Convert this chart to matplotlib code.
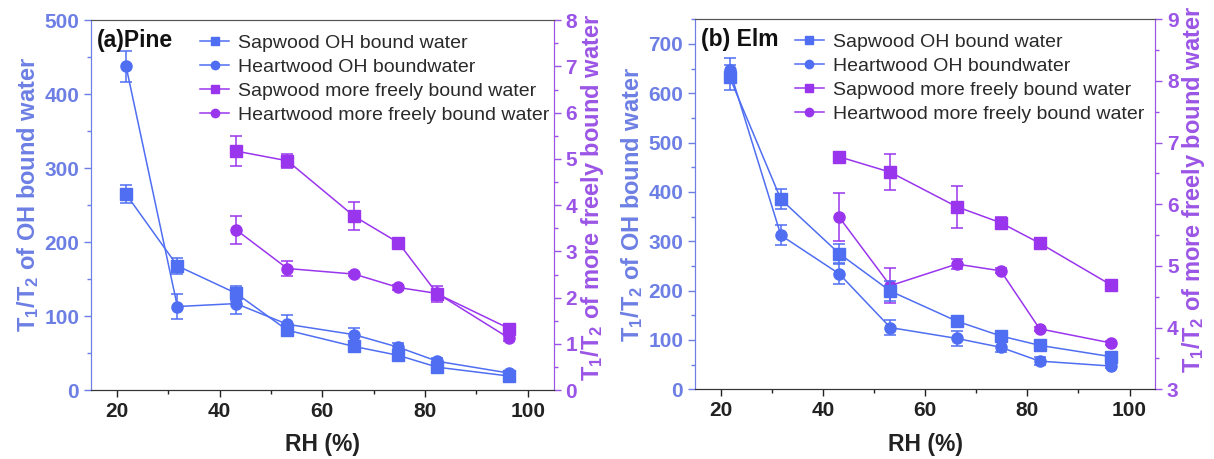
import matplotlib
matplotlib.use('Agg')
import matplotlib.pyplot as plt
from matplotlib.ticker import MultipleLocator

plt.rcParams['font.family'] = ['Liberation Sans', 'DejaVu Sans']
plt.rcParams['mathtext.fontset'] = 'custom'
plt.rcParams['mathtext.rm'] = 'Liberation Sans:bold'
plt.rcParams['mathtext.bf'] = 'Liberation Sans:bold'
plt.rcParams['mathtext.default'] = 'bf'

# relative humidity (%)
rh = [21.8, 31.8, 43.2, 53.2, 66.2, 74.8, 82.4, 96.4]
rh_free = rh[2:]

# (a) Pine
pine_sap_oh = [265, 168, 131, 81, 59, 47, 31, 19]
pine_sap_oh_err = [12, 11, 10, 8, 6, 5, 4, 3]
pine_heart_oh = [438, 113, 117, 89, 75, 58, 39, 23]
pine_heart_oh_err = [21, 17, 14, 12, 9, 6, 4, 3]
pine_sap_free = [5.17, 4.96, 3.76, 3.19, 2.08, 1.33]
pine_sap_free_err = [0.33, 0.15, 0.3, 0.05, 0.18, 0.05]
pine_heart_free = [3.47, 2.63, 2.51, 2.22, 2.09, 1.12]
pine_heart_free_err = [0.3, 0.17, 0.05, 0.05, 0.1, 0.05]

# (b) Elm
elm_sap_oh = [632, 385, 275, 199, 138, 108, 89, 66]
elm_sap_oh_err = [25, 20, 20, 20, 10, 8, 5, 5]
elm_heart_oh = [647, 312, 234, 125, 103, 85, 57, 47]
elm_heart_oh_err = [25, 20, 20, 15, 15, 10, 8, 4]
elm_sap_free = [6.77, 6.52, 5.96, 5.70, 5.37, 4.69]
elm_sap_free_err = [0.03, 0.29, 0.34, 0.1, 0.06, 0.03]
elm_heart_free = [5.79, 4.68, 5.03, 4.92, 3.98, 3.75]
elm_heart_free_err = [0.39, 0.28, 0.08, 0.04, 0.03, 0.03]

labels = ['Sapwood OH bound water', 'Heartwood OH boundwater',
          'Sapwood more freely bound water', 'Heartwood more freely bound water']

BLUE = '#4f6ef2'
BLUE_AX = '#6d7fe4'
PURPLE = '#9a35ee'
PURPLE_AX = '#9b55e6'

ylab_oh = r'T$_{1}$/T$_{2}$ of OH bound water'
ylab_free = r'T$_{1}$/T$_{2}$ of more freely bound water'


def panel(rect, title, oh, free, ylim_l, ylim_r, leg_x, ylab_pos):
    ax = fig.add_axes(rect)
    ax2 = ax.twinx()
    ax.set_zorder(ax2.get_zorder() + 1)
    ax.patch.set_visible(False)

    h = []
    for (y, e), mk in zip(oh, ['s', 'o']):
        c = ax.errorbar(rh, y, yerr=e, color=BLUE, marker=mk, ms=8, lw=1.1,
                        elinewidth=1.1, capsize=4, capthick=1.1)
        h.append(c[0])
    for (y, e), mk in zip(free, ['s', 'o']):
        c = ax2.errorbar(rh_free, y, yerr=e, color=PURPLE, marker=mk, ms=8, lw=1.1,
                         elinewidth=1.1, capsize=4, capthick=1.1)
        h.append(c[0])

    ax.set_xlim(15, 105)
    ax.set_ylim(*ylim_l)
    ax2.set_ylim(*ylim_r)
    ax.xaxis.set_major_locator(MultipleLocator(20))
    ax.xaxis.set_minor_locator(MultipleLocator(10))
    ax.yaxis.set_major_locator(MultipleLocator(100))
    ax.yaxis.set_minor_locator(MultipleLocator(50))
    ax2.yaxis.set_major_locator(MultipleLocator(1))
    ax2.yaxis.set_minor_locator(MultipleLocator(0.5))

    for a in (ax, ax2):
        a.tick_params(which='major', direction='out', length=5, width=1, labelsize=15)
        a.tick_params(which='minor', direction='out', length=3, width=1)
        for lab in a.get_yticklabels() + a.get_xticklabels():
            lab.set_fontweight('bold')
        a.spines['top'].set_color('#555555')
        a.spines['bottom'].set_color('#333333')
        a.spines['left'].set_color(BLUE_AX)
        a.spines['right'].set_color(PURPLE_AX)
    ax.tick_params(axis='y', which='both', colors=BLUE_AX)
    ax2.tick_params(axis='y', which='both', colors=PURPLE_AX)
    ax.tick_params(axis='x', which='both', colors='#222222')

    ax.set_xlabel('RH (%)', fontsize=16.5, fontweight='bold', color='#222222', labelpad=9)
    ax.set_ylabel(ylab_oh, fontsize=17, fontweight='bold', color=BLUE_AX, labelpad=2,
                  y=ylab_pos[0])
    ax2.set_ylabel(ylab_free, fontsize=17, fontweight='bold', color=PURPLE_AX, labelpad=1,
                   y=ylab_pos[1])

    ax.text(0.012, 0.945, title, transform=ax.transAxes, fontsize=16.5, fontweight='bold',
            va='center', ha='left', color='#111111')

    leg = ax.legend(h, labels, loc='upper left', bbox_to_anchor=(leg_x, 0.962),
                    frameon=False, fontsize=14, handlelength=1.5, handletextpad=0.45,
                    labelspacing=0.33, borderpad=0, borderaxespad=0, markerscale=0.75)
    for t in leg.get_texts():
        t.set_color('#2a2a2a')
    return ax


fig = plt.figure(figsize=(12.14, 4.59), dpi=100)

panel([0.075, 0.150, 0.381, 0.806], '(a)Pine',
      [(pine_sap_oh, pine_sap_oh_err), (pine_heart_oh, pine_heart_oh_err)],
      [(pine_sap_free, pine_sap_free_err), (pine_heart_free, pine_heart_free_err)],
      (0, 500), (0, 8), 0.236, (0.53, 0.52))

panel([0.5725, 0.152, 0.379, 0.806], '(b) Elm',
      [(elm_sap_oh, elm_sap_oh_err), (elm_heart_oh, elm_heart_oh_err)],
      [(elm_sap_free, elm_sap_free_err), (elm_heart_free, elm_heart_free_err)],
      (0, 750), (3, 9), 0.217, (0.5, 0.54))

fig.savefig('out.png', dpi=100)
